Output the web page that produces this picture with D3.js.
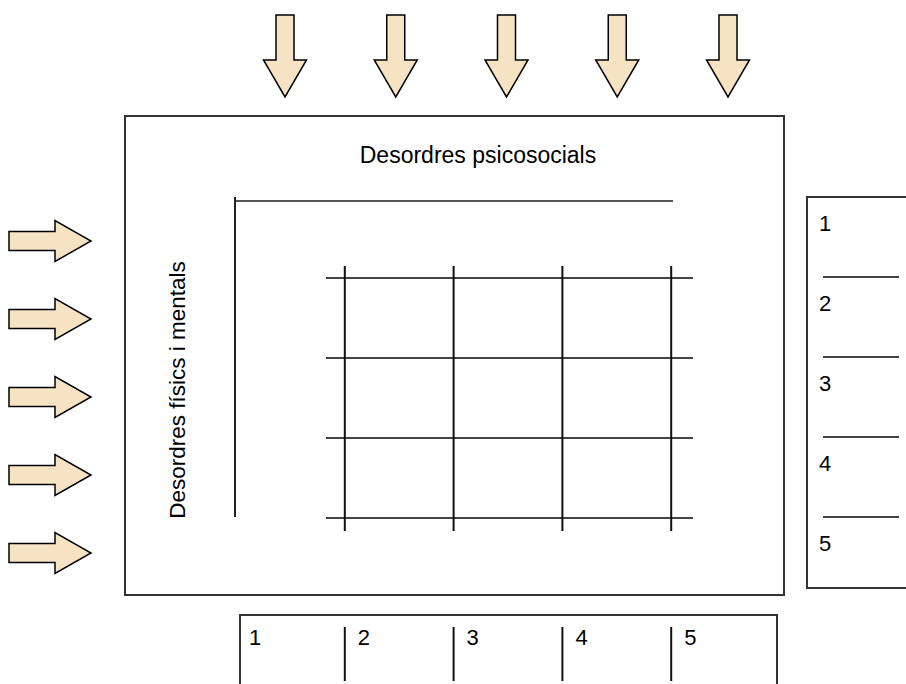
<!DOCTYPE html>
<html>
<head>
<meta charset="utf-8">
<script src="https://cdn.jsdelivr.net/npm/d3@7"></script>
<style>
  body { margin: 0; background: #fff; }
  text { font-family: "Liberation Sans", Arial, sans-serif; fill: #000; }
</style>
</head>
<body>
<div id="chart"></div>
<script>
const width = 906;
const height = 684;

// levels shown on both axes
const levels = [1, 2, 3, 4, 5];
const colLabels = ["1", "2", "3", "4", "5"];
const rowLabels = ["1", "2", "3", "4", "5"];
const titleTop = "Desordres psicosocials";
const titleLeft = "Desordres físics i mentals";

const svg = d3.select("#chart").append("svg")
    .attr("width", width)
    .attr("height", height);

// column and row scales
const x = d3.scaleBand().domain(levels).range([236, 780]).padding(0);
const y = d3.scaleBand().domain(levels).range([197, 597]).padding(0);
// arrow positions
const xArrow = d3.scalePoint().domain(levels).range([285, 728]);
const yArrow = d3.scalePoint().domain(levels).range([241, 553]);

const lineCol = "#333";
const arrowFill = "#f6e3c4";

// main box
svg.append("rect")
    .attr("x", 125).attr("y", 116)
    .attr("width", 659).attr("height", 479)
    .attr("fill", "none")
    .attr("stroke", lineCol)
    .attr("stroke-width", 2);

svg.append("text")
    .attr("x", 478).attr("y", 163)
    .attr("text-anchor", "middle")
    .style("font-size", "23px")
    .text(titleTop);

svg.append("text")
    .attr("transform", "translate(185,390) rotate(-90)")
    .attr("text-anchor", "middle")
    .style("font-size", "22.5px")
    .text(titleLeft);

// L-shaped axes
svg.append("line")
    .attr("x1", 234).attr("x2", 673).attr("y1", 201).attr("y2", 201)
    .attr("stroke", "#555").attr("stroke-width", 2);
svg.append("line")
    .attr("x1", 235).attr("x2", 235).attr("y1", 197).attr("y2", 517)
    .attr("stroke", "#222").attr("stroke-width", 2);

// grid
const grid = svg.append("g");
grid.selectAll("line.h")
    .data(levels.slice(1))
    .join("line")
    .attr("class", "h")
    .attr("x1", 326).attr("x2", 693)
    .attr("y1", d => y(d) + 1).attr("y2", d => y(d) + 1)
    .attr("stroke", "#444").attr("stroke-width", 2);
grid.selectAll("line.v")
    .data(levels.slice(1))
    .join("line")
    .attr("class", "v")
    .attr("x1", d => x(d)).attr("x2", d => x(d))
    .attr("y1", 266).attr("y2", 531)
    .attr("stroke", "#111").attr("stroke-width", 2);

// top arrows (pointing down)
const downArrow = (cx) => {
    const top = 15, neck = 60, tip = 97, sw = 9, hw = 21.5;
    return `M${cx - sw},${top}L${cx + sw},${top}L${cx + sw},${neck}L${cx + hw},${neck}L${cx},${tip}L${cx - hw},${neck}L${cx - sw},${neck}Z`;
};
svg.append("g").selectAll("path")
    .data(levels)
    .join("path")
    .attr("d", d => downArrow(xArrow(d)))
    .attr("fill", arrowFill)
    .attr("stroke", "#000")
    .attr("stroke-width", 1.5);

// left arrows (pointing right)
const rightArrow = (cy) => {
    const left = 9, neck = 55, tip = 91, sw = 9.5, hw = 20.5;
    return `M${left},${cy - sw}L${neck},${cy - sw}L${neck},${cy - hw}L${tip},${cy}L${neck},${cy + hw}L${neck},${cy + sw}L${left},${cy + sw}Z`;
};
svg.append("g").selectAll("path")
    .data(levels)
    .join("path")
    .attr("d", d => rightArrow(yArrow(d)))
    .attr("fill", arrowFill)
    .attr("stroke", "#000")
    .attr("stroke-width", 1.5);

// right panel
svg.append("path")
    .attr("d", "M910,197L807,197L807,588L910,588")
    .attr("fill", "none")
    .attr("stroke", lineCol)
    .attr("stroke-width", 2);
svg.append("g").selectAll("line")
    .data(levels.slice(1))
    .join("line")
    .attr("x1", 823).attr("x2", 899)
    .attr("y1", d => y(d)).attr("y2", d => y(d))
    .attr("stroke", "#444").attr("stroke-width", 2);
svg.append("g").selectAll("text")
    .data(levels)
    .join("text")
    .attr("x", 819)
    .attr("y", d => y(d) + 34)
    .style("font-size", "22px")
    .text((d, i) => rowLabels[i]);

// bottom panel
svg.append("path")
    .attr("d", "M240,690L240,615L777,615L777,690")
    .attr("fill", "none")
    .attr("stroke", lineCol)
    .attr("stroke-width", 2);
svg.append("g").selectAll("line")
    .data(levels.slice(1))
    .join("line")
    .attr("x1", d => x(d)).attr("x2", d => x(d))
    .attr("y1", 627).attr("y2", 681)
    .attr("stroke", "#111").attr("stroke-width", 2);
svg.append("g").selectAll("text")
    .data(levels)
    .join("text")
    .attr("x", d => x(d) + 13)
    .attr("y", 645)
    .style("font-size", "22px")
    .text((d, i) => colLabels[i]);
</script>
</body>
</html>
